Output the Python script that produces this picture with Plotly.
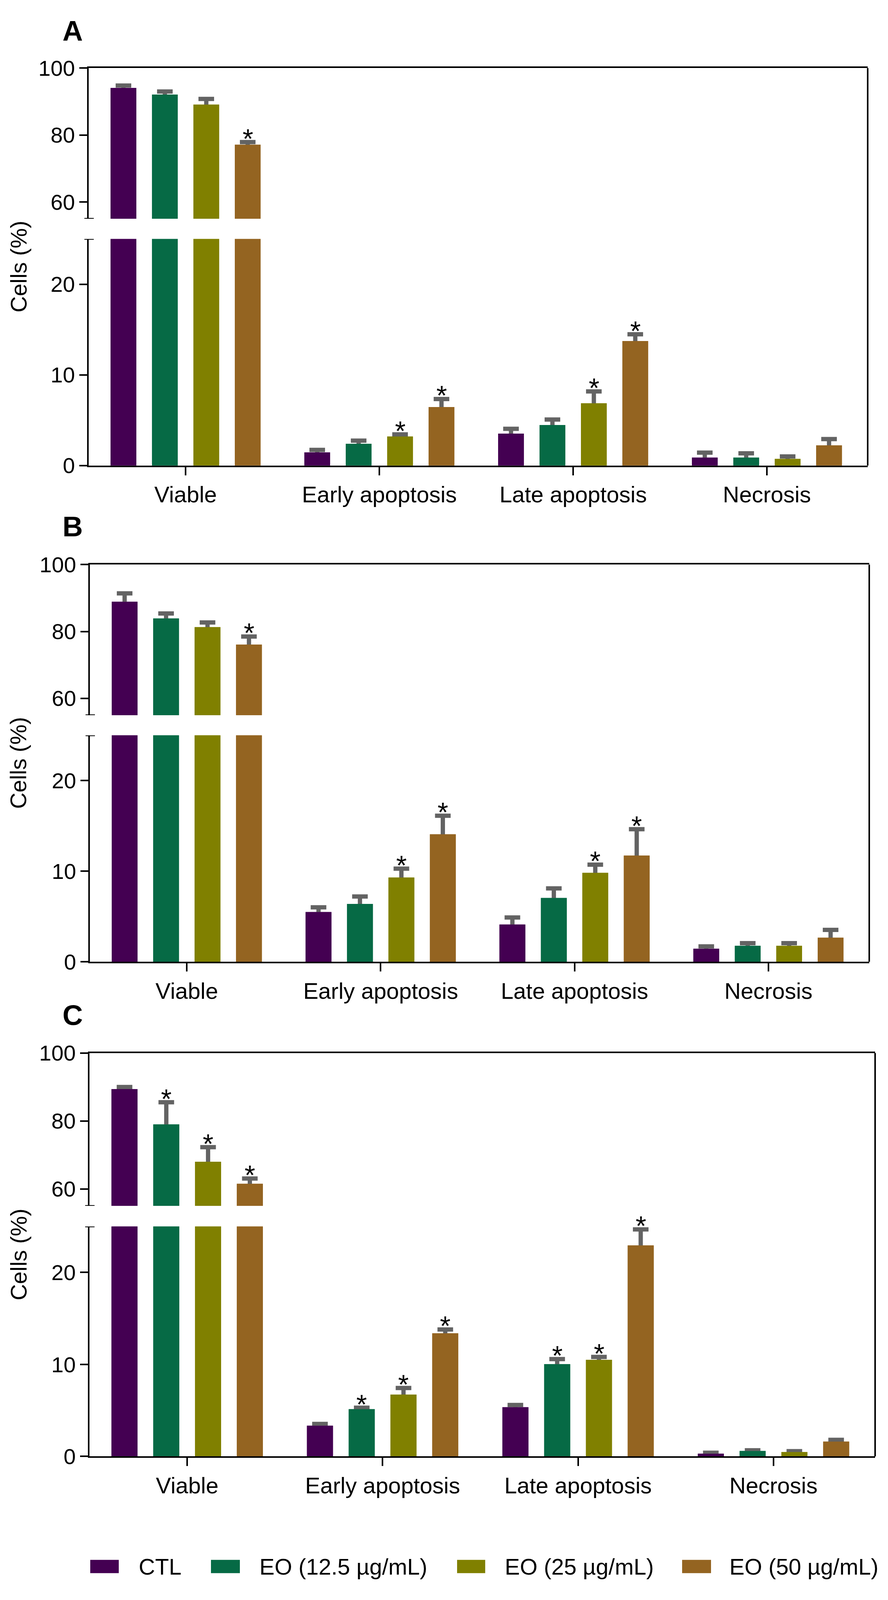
import plotly.graph_objects as go

W, H = 2273, 4277  # размер эталона, px (позиции ниже задаются долями от него)

categories = ['Viable', 'Early apoptosis', 'Late apoptosis', 'Necrosis']
groups = ['CTL', 'EO (12.5 µg/mL)', 'EO (25 µg/mL)', 'EO (50 µg/mL)']
colors = ['#440052', '#066a45', '#808000', '#946421']

upper_ticks = [60, 80, 100]
lower_ticks = [0, 10, 20]

# Панель A: средние по сериям (CTL, 12.5, 25, 50) для каждой категории
a_mean = [[94.1, 1.46, 3.53, 0.87],
          [92.1, 2.40, 4.47, 0.87],
          [89.1, 3.20, 6.87, 0.73],
          [77.1, 6.46, 13.74, 2.23]]
a_sd = [[0.7, 0.27, 0.52, 0.55],
        [0.9, 0.35, 0.61, 0.48],
        [1.7, 0.24, 1.31, 0.27],
        [0.8, 0.88, 0.74, 0.69]]
a_sig = [[0, 0, 0, 0],
         [0, 0, 0, 0],
         [0, 1, 1, 0],
         [1, 1, 1, 0]]

# Панель B
b_mean = [[88.9, 5.49, 4.11, 1.43],
          [83.9, 6.38, 7.04, 1.76],
          [81.3, 9.30, 9.81, 1.76],
          [76.1, 14.07, 11.72, 2.65]]
b_sd = [[2.5, 0.52, 0.77, 0.26],
        [1.5, 0.82, 1.06, 0.29],
        [1.4, 0.98, 0.91, 0.29],
        [2.4, 2.05, 2.91, 0.86]]
b_sig = [[0, 0, 0, 0],
         [0, 0, 0, 0],
         [0, 1, 1, 0],
         [1, 1, 1, 0]]

# Панель C
c_mean = [[89.4, 3.34, 5.34, 0.29],
          [79.0, 5.13, 10.03, 0.59],
          [68.0, 6.72, 10.50, 0.47],
          [61.5, 13.38, 22.94, 1.61]]
c_sd = [[0.6, 0.19, 0.25, 0.11],
        [6.5, 0.16, 0.55, 0.07],
        [4.3, 0.72, 0.31, 0.10],
        [1.55, 0.42, 1.74, 0.19]]
c_sig = [[0, 0, 0, 0],
         [1, 1, 1, 0],
         [1, 1, 1, 0],
         [1, 1, 1, 0]]

# Геометрия панелей в пикселях эталона
PANELS = [
    dict(label='A', mean=a_mean, sd=a_sd, sig=a_sig, top=152, zero=1231, left=227, right=2221, label_y=51),
    dict(label='B', mean=b_mean, sd=b_sd, sig=b_sig, top=1500, zero=2578, left=230, right=2225, label_y=1397),
    dict(label='C', mean=c_mean, sd=c_sd, sig=c_sig, top=2826, zero=3921, left=229, right=2240, label_y=2723),
]
FRAC_UP, FRAC_LO = 0.379, 0.570   # доли высоты панели под верхний и нижний сегменты
X_RANGE = [-0.5, 3.52]
BARGAP, BARGROUPGAP = 0.145, 0.377
LW = 4
FONT = 'Liberation Sans, Arial, sans-serif'
ERR_COLOR = '#636363'
STAR_SIZE = 70
STAR_SHIFT = -33


def px(x):
    return x / W


def py(y):
    return 1 - y / H


def ax_name(n):
    return '' if n == 1 else str(n)


fig = go.Figure()
layout = {}
shapes = []
annotations = []

for p, panel in enumerate(PANELS):
    lo, up = 2 * p + 1, 2 * p + 2
    top, zero = panel['top'], panel['zero']
    h = zero - top
    up_bot = top + h * FRAC_UP
    lo_top = zero - h * FRAC_LO
    xdom = [px(panel['left']), px(panel['right'])]

    # Столбцы: сначала с погрешностями, затем поверх — без них (скрывают нижнюю половину усов)
    for n in (lo, up):
        for with_err in (True, False):
            for j in range(4):
                kw = dict(
                    x=categories, y=panel['mean'][j], name=groups[j],
                    marker=dict(color=colors[j], line=dict(width=0)),
                    offsetgroup=str(j), showlegend=False,
                    xaxis='x' + ax_name(n), yaxis='y' + ax_name(n),
                    hovertemplate='%{x}: %{y:.2f}%<extra>' + groups[j] + '</extra>',
                )
                if with_err:
                    kw['error_y'] = dict(type='data', array=panel['sd'][j], symmetric=True,
                                         color=ERR_COLOR, thickness=11, width=20)
                fig.add_trace(go.Bar(**kw))

    common_y = dict(showline=True, linecolor='black', linewidth=LW, ticks='outside',
                    ticklen=20, tickwidth=LW, tickcolor='black', showgrid=False,
                    zeroline=False, tickfont=dict(size=56, color='black', family=FONT))
    layout['xaxis' + ax_name(lo)] = dict(
        domain=xdom, anchor='y' + ax_name(lo), type='category',
        categoryorder='array', categoryarray=categories, range=X_RANGE,
        showline=True, linecolor='black', linewidth=LW, ticks='outside', ticklen=21,
        tickwidth=LW, tickcolor='black', showgrid=False, zeroline=False,
        tickfont=dict(size=58, color='black', family=FONT))
    layout['xaxis' + ax_name(up)] = dict(
        domain=xdom, anchor='y' + ax_name(up), matches='x' + ax_name(lo),
        type='category', side='top', showline=True, linecolor='black', linewidth=LW,
        ticks='', showticklabels=False, showgrid=False, zeroline=False)
    layout['yaxis' + ax_name(lo)] = dict(
        domain=[py(zero), py(lo_top)], anchor='x' + ax_name(lo), range=[0, 25],
        tickvals=lower_ticks, **common_y)
    layout['yaxis' + ax_name(up)] = dict(
        domain=[py(up_bot), py(top)], anchor='x' + ax_name(up), range=[55, 100],
        tickvals=upper_ticks, **common_y)

    # Засечки на концах разрыва оси
    for n, yv in ((up, 55), (lo, 25)):
        shapes.append(dict(type='line', xref='paper', yref='y' + ax_name(n),
                           x0=px(panel['left'] - 11), x1=px(panel['left'] + 13),
                           y0=yv, y1=yv, line=dict(color='black', width=LW)))
    # Правая рамка
    shapes.append(dict(type='line', xref='paper', yref='paper',
                       x0=xdom[1], x1=xdom[1], y0=py(zero), y1=py(top),
                       line=dict(color='black', width=LW)))

    # Звёздочки значимости
    slot_px = (panel['right'] - panel['left']) / (X_RANGE[1] - X_RANGE[0]) * (1 - BARGAP) / 4
    for j in range(4):
        for k, cat in enumerate(categories):
            if not panel['sig'][j][k]:
                continue
            m = panel['mean'][j][k]
            n = up if m > 25 else lo
            annotations.append(dict(
                xref='x' + ax_name(n), yref='y' + ax_name(n), x=cat,
                y=m + panel['sd'][j][k], text='*', showarrow=False,
                xshift=(j - 1.5) * slot_px, yshift=STAR_SHIFT, yanchor='bottom',
                font=dict(size=STAR_SIZE, color='black', family=FONT)))

    # Буква панели и подпись оси
    annotations.append(dict(xref='paper', yref='paper', x=px(186), y=py(panel['label_y']),
                            text='<b>' + panel['label'] + '</b>', showarrow=False,
                            xanchor='center', yanchor='middle',
                            font=dict(size=72, color='black', family=FONT)))
    annotations.append(dict(xref='paper', yref='paper', x=px(47), y=py((top + zero) / 2),
                            text='Cells (%)', textangle=-90, showarrow=False,
                            xanchor='center', yanchor='middle',
                            font=dict(size=58, color='black', family=FONT)))

# Легенда (прямоугольники + подписи)
LEG_Y0, LEG_Y1 = 4202, 4238
leg_boxes = [(231, 304), (540, 614), (1170, 1242), (1746, 1820)]
leg_text_x = [353, 662, 1290, 1865]
for j in range(4):
    x0, x1 = leg_boxes[j]
    shapes.append(dict(type='rect', xref='paper', yref='paper',
                       x0=px(x0), x1=px(x1), y0=py(LEG_Y1), y1=py(LEG_Y0),
                       fillcolor=colors[j], line=dict(width=0)))
    annotations.append(dict(xref='paper', yref='paper', x=px(leg_text_x[j]),
                            y=py((LEG_Y0 + LEG_Y1) / 2), text=groups[j], showarrow=False,
                            xanchor='left', yanchor='middle',
                            font=dict(size=58, color='black', family=FONT)))

fig.update_layout(
    autosize=True,
    margin=dict(l=0, r=0, t=0, b=0),
    paper_bgcolor='white', plot_bgcolor='white',
    barmode='group', bargap=BARGAP, bargroupgap=BARGROUPGAP,
    font=dict(family=FONT, color='black'),
    showlegend=False,
    shapes=shapes, annotations=annotations,
    **layout,
)

# Фигура занимает всё окно браузера, без полей и прокрутки
post = ("var gd=document.getElementById('{plot_id}');"
        "document.body.style.margin='0';"
        "document.body.style.overflow='hidden';"
        "Plotly.Plots.resize(gd);")

fig.write_html("out.html", default_width='100%', default_height='100vh',
               config={'responsive': True, 'displayModeBar': False}, post_script=post)
